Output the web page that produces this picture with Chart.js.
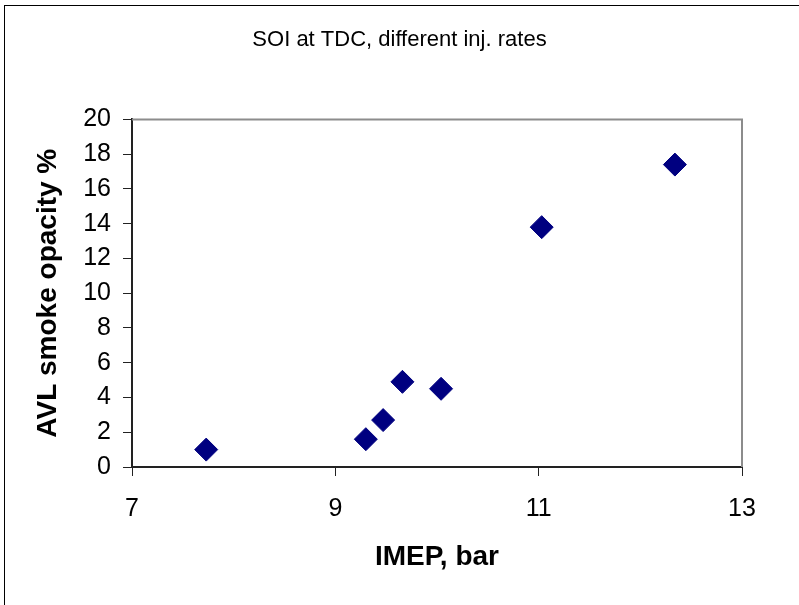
<!DOCTYPE html>
<html>
<head>
<meta charset="utf-8">
<script src="https://cdn.jsdelivr.net/npm/chart.js@4.4.0/dist/chart.umd.min.js"></script>
<style>
    html, body { margin: 0; padding: 0; background: #fff; overflow: hidden; }
    #wrap { position: relative; width: 799px; height: 605px; }
    #frame { position: absolute; left: 4px; top: 5px; width: 900px; height: 700px; border: 1px solid #000; border-width: 1px 0 0 1px; pointer-events: none; }
</style>
</head>
<body>
<div id="wrap">
    <canvas id="smokeChart" width="799" height="605"></canvas>
    <div id="frame"></div>
</div>
<script>
// Chart data
const imepValues = [7.73, 9.30, 9.47, 9.66, 10.04, 11.03, 12.34];
const smokeValues = [1.0, 1.6, 2.7, 4.9, 4.5, 13.8, 17.4];
const xTicks = [7, 9, 11, 13];
const yTicks = [0, 2, 4, 6, 8, 10, 12, 14, 16, 18, 20];

const fontFamily = "'Liberation Sans', Arial, sans-serif";

// Gray top/right border of the plot area
const plotFrame = {
    id: 'plotFrame',
    afterDraw(chart) {
        const { ctx, chartArea } = chart;
        ctx.save();
        ctx.strokeStyle = '#8c8c8c';
        ctx.lineWidth = 2;
        ctx.beginPath();
        ctx.moveTo(chartArea.left, chartArea.top);
        ctx.lineTo(chartArea.right, chartArea.top);
        ctx.lineTo(chartArea.right, chartArea.bottom);
        ctx.stroke();
        ctx.restore();
    }
};

const points = imepValues.map((x, i) => ({ x: x, y: smokeValues[i] }));

new Chart(document.getElementById('smokeChart').getContext('2d'), {
    type: 'scatter',
    data: {
        datasets: [{
            label: 'smoke',
            data: points,
            pointStyle: 'rectRot',
            pointRadius: 11.5,
            pointHoverRadius: 11.5,
            backgroundColor: '#000080',
            borderColor: '#000080',
            borderWidth: 1
        }]
    },
    options: {
        responsive: false,
        animation: false,
        layout: { padding: 0 },
        plugins: {
            legend: { display: false },
            tooltip: { enabled: false },
            title: {
                display: true,
                text: 'SOI at TDC, different inj. rates',
                color: '#000',
                font: { family: fontFamily, size: 22, weight: 'normal' },
                padding: { top: 27, bottom: 66 }
            }
        },
        scales: {
            x: {
                type: 'linear',
                min: 7,
                max: 13,
                afterFit(scale) { scale.height = 138; },
                afterBuildTicks(scale) { scale.ticks = xTicks.map(v => ({ value: v })); },
                border: { color: '#222', width: 2 },
                grid: { drawOnChartArea: false, tickLength: 9, color: '#222', lineWidth: 1 },
                ticks: { color: '#000', padding: 18, font: { family: fontFamily, size: 25 } },
                title: {
                    display: true,
                    text: 'IMEP, bar',
                    color: '#000',
                    font: { family: fontFamily, size: 28, weight: 'bold' },
                    padding: { top: 0, bottom: 31 }
                }
            },
            y: {
                type: 'linear',
                min: 0,
                max: 20,
                afterFit(scale) { scale.width = 132; },
                afterBuildTicks(scale) { scale.ticks = yTicks.map(v => ({ value: v })); },
                border: { color: '#222', width: 2 },
                grid: { drawOnChartArea: false, tickLength: 9, color: '#222', lineWidth: 1 },
                ticks: { color: '#000', padding: 12, font: { family: fontFamily, size: 25 } },
                title: {
                    display: true,
                    text: 'AVL smoke opacity %',
                    color: '#000',
                    font: { family: fontFamily, size: 28, weight: 'bold' },
                    padding: { top: 31, bottom: 0 }
                }
            },
            // empty right-hand scale that reserves the blank margin beside the plot
            yRight: {
                type: 'linear',
                position: 'right',
                min: 0,
                max: 20,
                afterFit(scale) { scale.width = 57; },
                border: { display: false },
                grid: { display: false },
                ticks: { display: false }
            }
        }
    },
    plugins: [plotFrame]
});
</script>
</body>
</html>
